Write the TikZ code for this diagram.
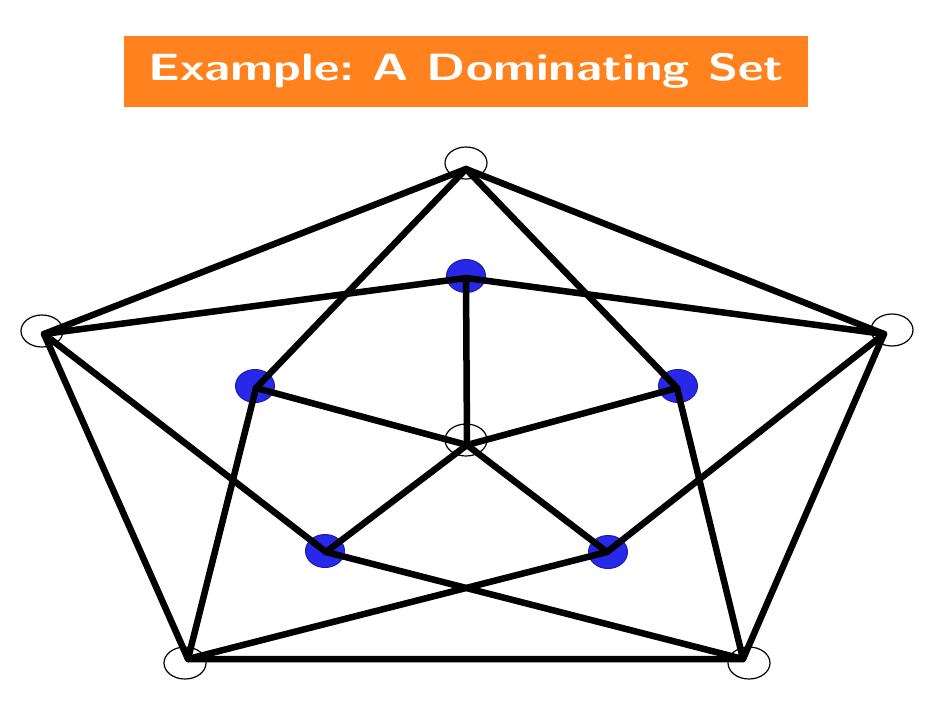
\documentclass[tikz,border=0pt]{standalone}
\usetikzlibrary{shapes.geometric}
\definecolor{titleorange}{RGB}{255,130,30}
\definecolor{domblue}{RGB}{40,40,235}
\begin{document}
\begin{tikzpicture}[x=1pt,y=-1pt,
  plain/.style={ellipse,draw=black,line width=1.2pt,fill=white,minimum width=42pt,minimum height=32pt,inner sep=0pt},
  dom/.style={ellipse,draw=domblue!70!black,line width=1pt,fill=domblue,minimum width=39pt,minimum height=33pt,inner sep=0pt},
  edge/.style={line width=6.5pt,line cap=round,line join=round}]
\useasboundingbox (0,0) rectangle (942,707);
\fill[white] (0,0) rectangle (942,707);
% title
\node[fill=titleorange,minimum width=684pt,minimum height=71pt,inner sep=0pt] (title) at (466,71)
  {\scalebox{1.3}[1]{\fontsize{38}{44}\selectfont\sffamily\bfseries\color{white}Example:\ A Dominating Set}};
% vertex discs
\node[plain] (o1) at (466,163) {};
\node[plain] (o2) at (42,331) {};
\node[plain] (o3) at (892,330) {};
\node[plain] (o4) at (185,663) {};
\node[plain] (o5) at (749,663) {};
\node[plain] (c) at (466,440) {};
\node[dom] (i1) at (466,276) {};
\node[dom] (i2) at (255,386) {};
\node[dom] (i3) at (678,386) {};
\node[dom] (i4) at (325,551) {};
\node[dom] (i5) at (608,552) {};
% edge end points
\coordinate (O1) at (466,169);
\coordinate (O2) at (44,334);
\coordinate (O3) at (884,334);
\coordinate (O4) at (188,659);
\coordinate (O5) at (743,659);
\coordinate (C) at (467,445);
\coordinate (I1) at (466,278);
\coordinate (I2) at (256,388);
\coordinate (I3) at (677,388);
\coordinate (I4) at (326,552);
\coordinate (I5) at (607,552);
% edges
\draw[edge] (O1) -- (O2) -- (O4) -- (O5) -- (O3) -- cycle;
\draw[edge] (O1) -- (I2);
\draw[edge] (O1) -- (I3);
\draw[edge] (O2) -- (I1);
\draw[edge] (O3) -- (I1);
\draw[edge] (O2) -- (I4);
\draw[edge] (O3) -- (I5);
\draw[edge] (O4) -- (I2);
\draw[edge] (O5) -- (I3);
\draw[edge] (O4) -- (I5);
\draw[edge] (O5) -- (I4);
\draw[edge] (C) -- (I1);
\draw[edge] (C) -- (I2);
\draw[edge] (C) -- (I3);
\draw[edge] (C) -- (I4);
\draw[edge] (C) -- (I5);
\end{tikzpicture}
\end{document}
